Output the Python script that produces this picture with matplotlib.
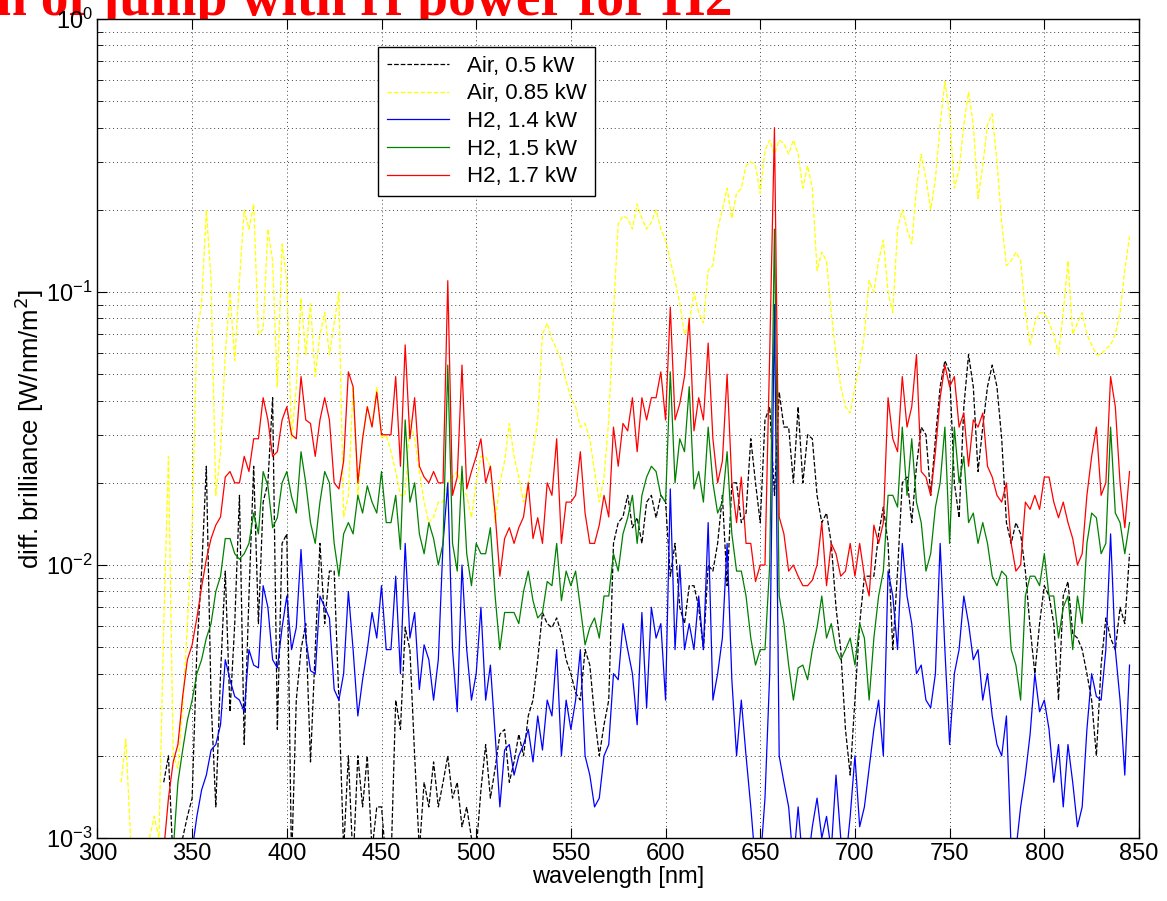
import numpy as np
import matplotlib
matplotlib.use("Agg")
import matplotlib.pyplot as plt

nan = np.nan

# wavelength grid, 2.5 nm steps (310 ... 845 nm)
wavelength = np.arange(310, 845.1, 2.5)

air_05 = [
    nan, nan, nan, nan, nan, nan, nan, nan, nan, nan, 0.0016, 0.0020, 0.0008, 0.0008, 0.0010, 0.0012,
    0.0014, 0.0049, 0.0095, 0.023, 0.0032, 0.0013, 0.0040, 0.0095, 0.0029, 0.0061, 0.018, 0.0022, 0.0077, 0.023, 0.0061, 0.017, 0.020, 0.041, 0.0025, 0.012,
    0.013, 0.0008, 0.0032, 0.0049, 0.0061, 0.0019, 0.0049, 0.012, 0.0061, 0.0095, 0.0095, 0.0032, 0.0009, 0.0020, 0.0008, 0.0020, 0.0013, 0.0020, 0.0009, 0.0013,
    0.0013, 0.0008, 0.0008, 0.0032, 0.0025, 0.0059, 0.0049, 0.0020, 0.0009, 0.0016, 0.0013, 0.0019, 0.0013, 0.0016, 0.0020, 0.0014, 0.0016, 0.0011, 0.0013, 0.0010,
    0.0009, 0.0015, 0.0022, 0.0014, 0.0018, 0.0024, 0.0025, 0.0016, 0.0019, 0.0024, 0.0020, 0.0028, 0.0032, 0.0045, 0.0067, 0.0061, 0.0059, 0.0064, 0.0056, 0.0045,
    0.0040, 0.0034, 0.0032, 0.0049, 0.0043, 0.0028, 0.0020, 0.0026, 0.0032, 0.012, 0.0143, 0.015, 0.018, 0.0137, 0.0149, 0.012, 0.017, 0.018, 0.0149, 0.018,
    0.017, 0.0091, 0.012, 0.0070, 0.0061, 0.0084, 0.0084, 0.0070, 0.0049, 0.010, 0.0095, 0.012, 0.018, 0.0084, 0.020, 0.020, 0.0143, 0.0155, 0.029, 0.020,
    0.0143, 0.034, 0.038, 0.018, 0.043, 0.032, 0.032, 0.020, 0.038, 0.020, 0.030, 0.029, 0.018, 0.0143, 0.0155, 0.012, 0.0070, 0.0049, 0.0025, 0.0017,
    0.0032, 0.0061, 0.0091, 0.0091, 0.0091, 0.013, 0.0163, 0.012, 0.0049, 0.0095, 0.020, 0.021, 0.0143, 0.023, 0.032, 0.030, 0.018, 0.029, 0.045, 0.056,
    0.051, 0.020, 0.0149, 0.038, 0.059, 0.045, 0.022, 0.032, 0.045, 0.054, 0.045, 0.029, 0.0143, 0.012, 0.0143, 0.013, 0.0095, 0.0059, 0.0040, 0.0061,
    0.0084, 0.0077, 0.0061, 0.0032, 0.0077, 0.0087, 0.0056, 0.0054, 0.0049, 0.0040, 0.0032, 0.0020, 0.0043, 0.0064, 0.0054, 0.0049, 0.0070, 0.0061, 0.011,
]

air_085 = [
    nan, 0.0016, 0.0023, 0.0010, 0.0008, 0.0008, 0.0008, 0.0010, 0.0012, 0.0010, 0.0060, 0.025, 0.0020, 0.0018, 0.0030, 0.0060,
    0.014, 0.07, 0.091, 0.20, 0.11, 0.018, 0.026, 0.059, 0.10, 0.056, 0.11, 0.20, 0.17, 0.21, 0.07, 0.073, 0.17, 0.13, 0.045, 0.15,
    0.11, 0.029, 0.045, 0.095, 0.059, 0.091, 0.049, 0.070, 0.084, 0.059, 0.077, 0.10, 0.015, 0.018, 0.045, 0.018, 0.029, 0.038, 0.032, 0.045,
    0.029, 0.030, 0.026, 0.022, 0.018, 0.018, 0.034, 0.029, 0.022, 0.017, 0.0143, 0.015, 0.017, 0.017, 0.020, 0.021, 0.022, 0.019, 0.018, 0.0149,
    0.020, 0.025, 0.025, 0.023, 0.0143, 0.020, 0.024, 0.033, 0.025, 0.021, 0.017, 0.020, 0.026, 0.034, 0.070, 0.077, 0.067, 0.062, 0.056, 0.047,
    0.041, 0.038, 0.032, 0.033, 0.029, 0.022, 0.017, 0.021, 0.034, 0.084, 0.178, 0.19, 0.186, 0.17, 0.21, 0.186, 0.17, 0.18, 0.20, 0.17,
    0.155, 0.13, 0.11, 0.091, 0.07, 0.077, 0.10, 0.084, 0.077, 0.12, 0.125, 0.17, 0.20, 0.24, 0.186, 0.23, 0.24, 0.29, 0.30, 0.29,
    0.23, 0.33, 0.36, 0.32, 0.36, 0.35, 0.32, 0.36, 0.32, 0.24, 0.29, 0.24, 0.12, 0.14, 0.13, 0.084, 0.059, 0.045, 0.038, 0.036,
    0.045, 0.054, 0.07, 0.11, 0.10, 0.13, 0.155, 0.10, 0.084, 0.17, 0.20, 0.17, 0.15, 0.24, 0.32, 0.26, 0.20, 0.26, 0.41, 0.59,
    0.45, 0.24, 0.28, 0.41, 0.54, 0.41, 0.22, 0.29, 0.41, 0.45, 0.30, 0.18, 0.125, 0.13, 0.14, 0.13, 0.084, 0.064, 0.077, 0.084,
    0.084, 0.077, 0.07, 0.059, 0.084, 0.13, 0.07, 0.077, 0.084, 0.07, 0.064, 0.059, 0.059, 0.062, 0.064, 0.07, 0.084, 0.12, 0.16,
]

h2_14 = [
    nan, nan, nan, nan, nan, nan, nan, nan, nan, nan, nan, nan, nan, nan, nan, nan,
    0.0009, 0.0012, 0.0015, 0.0017, 0.0021, 0.0022, 0.0026, 0.0045, 0.0038, 0.0033, 0.0032, 0.0029, 0.0049, 0.0043, 0.0042, 0.0084, 0.0070, 0.0045, 0.0042, 0.0059,
    0.0077, 0.0049, 0.0059, 0.0114, 0.0054, 0.0041, 0.0040, 0.0077, 0.0070, 0.0064, 0.0035, 0.0032, 0.0040, 0.0080, 0.0049, 0.0028, 0.0038, 0.0049, 0.0067, 0.0054,
    0.0084, 0.0049, 0.0049, 0.0091, 0.0040, 0.012, 0.0054, 0.0067, 0.0035, 0.0051, 0.0045, 0.0032, 0.0045, 0.012, 0.020, 0.0049, 0.0029, 0.010, 0.0049, 0.0032,
    0.0040, 0.0070, 0.0032, 0.0043, 0.0024, 0.0013, 0.0021, 0.0022, 0.0017, 0.0020, 0.0022, 0.0025, 0.0019, 0.0028, 0.0021, 0.0032, 0.0028, 0.0049, 0.0020, 0.0032,
    0.0025, 0.0032, 0.0049, 0.0020, 0.0017, 0.0013, 0.0014, 0.0020, 0.0022, 0.0040, 0.0038, 0.0061, 0.0049, 0.0040, 0.0026, 0.0067, 0.0030, 0.0070, 0.0054, 0.0061,
    0.0032, 0.019, 0.0049, 0.010, 0.0049, 0.0061, 0.0049, 0.0077, 0.0049, 0.0143, 0.0032, 0.0040, 0.0054, 0.012, 0.0038, 0.0020, 0.0032, 0.0020, 0.0013, 0.0008,
    0.0008, 0.0014, 0.0040, 0.09, 0.0020, 0.0016, 0.0013, 0.0008, 0.0013, 0.0008, 0.0008, 0.0011, 0.0014, 0.0010, 0.0012, 0.0009, 0.0017, 0.0010, 0.0008, 0.0012,
    0.0020, 0.0011, 0.0013, 0.0018, 0.0025, 0.0032, 0.0020, 0.0095, 0.0077, 0.0049, 0.012, 0.0077, 0.0061, 0.0040, 0.0043, 0.0032, 0.0030, 0.0040, 0.012, 0.0049,
    0.0022, 0.0040, 0.0049, 0.0077, 0.0061, 0.0045, 0.0049, 0.0032, 0.0040, 0.0028, 0.0022, 0.0020, 0.0028, 0.0009, 0.0009, 0.0013, 0.0017, 0.0024, 0.0040, 0.0029,
    0.0032, 0.0025, 0.0016, 0.0022, 0.0013, 0.0022, 0.0016, 0.0011, 0.0013, 0.0025, 0.0040, 0.0033, 0.0032, 0.0049, 0.013, 0.0049, 0.0032, 0.0017, 0.0043,
]

h2_15 = [
    nan, nan, nan, nan, nan, nan, nan, nan, nan, nan, nan, nan, 0.0009, 0.0016, 0.0021, 0.0027,
    0.0032, 0.0040, 0.0045, 0.0054, 0.0061, 0.0080, 0.0091, 0.0125, 0.0125, 0.011, 0.0105, 0.011, 0.012, 0.0155, 0.013, 0.022, 0.0195, 0.0137, 0.0149, 0.020,
    0.022, 0.0178, 0.0155, 0.026, 0.020, 0.0143, 0.012, 0.017, 0.022, 0.020, 0.012, 0.0091, 0.013, 0.0143, 0.013, 0.018, 0.0155, 0.0195, 0.017, 0.0155,
    0.022, 0.0143, 0.0143, 0.018, 0.0114, 0.034, 0.017, 0.020, 0.013, 0.011, 0.0143, 0.0125, 0.010, 0.012, 0.054, 0.012, 0.0095, 0.023, 0.011, 0.0084,
    0.012, 0.011, 0.011, 0.0137, 0.0077, 0.0049, 0.0067, 0.0067, 0.0067, 0.0061, 0.0080, 0.0095, 0.0074, 0.0064, 0.0067, 0.0087, 0.0084, 0.012, 0.0074, 0.0095,
    0.0084, 0.0095, 0.0070, 0.0051, 0.0059, 0.0064, 0.0054, 0.0077, 0.0077, 0.011, 0.0095, 0.013, 0.0149, 0.018, 0.012, 0.018, 0.021, 0.023, 0.022, 0.018,
    0.017, 0.051, 0.020, 0.029, 0.026, 0.045, 0.019, 0.022, 0.017, 0.032, 0.020, 0.0155, 0.017, 0.026, 0.013, 0.0095, 0.0095, 0.0077, 0.0054, 0.0043,
    0.0049, 0.0049, 0.010, 0.17, 0.0077, 0.0061, 0.0043, 0.0032, 0.0042, 0.0043, 0.0038, 0.0049, 0.0059, 0.0077, 0.0054, 0.0061, 0.0049, 0.0045, 0.0049, 0.0054,
    0.0043, 0.0061, 0.0054, 0.0032, 0.0054, 0.0077, 0.0095, 0.018, 0.018, 0.0163, 0.032, 0.018, 0.029, 0.017, 0.0143, 0.0095, 0.011, 0.0163, 0.020, 0.032,
    0.012, 0.032, 0.020, 0.025, 0.0143, 0.0155, 0.012, 0.0143, 0.012, 0.0091, 0.0084, 0.0095, 0.0091, 0.0049, 0.0043, 0.0032, 0.0077, 0.0091, 0.0091, 0.0084,
    0.011, 0.0077, 0.0077, 0.0054, 0.0070, 0.0077, 0.0049, 0.0077, 0.0061, 0.012, 0.0155, 0.0149, 0.011, 0.012, 0.032, 0.0155, 0.0143, 0.011, 0.0143,
]

h2_17 = [
    nan, nan, nan, nan, nan, nan, nan, nan, nan, nan, 0.0009, 0.0014, 0.0019, 0.0022, 0.0033, 0.0045,
    0.0051, 0.0064, 0.0083, 0.0105, 0.0125, 0.014, 0.015, 0.021, 0.022, 0.020, 0.020, 0.025, 0.022, 0.029, 0.029, 0.041, 0.034, 0.025, 0.026, 0.034,
    0.038, 0.030, 0.029, 0.049, 0.034, 0.033, 0.025, 0.034, 0.041, 0.034, 0.020, 0.019, 0.024, 0.051, 0.045, 0.020, 0.029, 0.038, 0.032, 0.043,
    0.030, 0.030, 0.030, 0.049, 0.023, 0.064, 0.029, 0.041, 0.023, 0.021, 0.020, 0.022, 0.020, 0.020, 0.11, 0.018, 0.021, 0.054, 0.019, 0.022,
    0.025, 0.029, 0.020, 0.023, 0.0155, 0.0091, 0.0125, 0.0137, 0.012, 0.0137, 0.015, 0.020, 0.0125, 0.0149, 0.012, 0.020, 0.018, 0.029, 0.012, 0.017,
    0.017, 0.018, 0.026, 0.0155, 0.012, 0.012, 0.014, 0.018, 0.015, 0.032, 0.023, 0.033, 0.031, 0.041, 0.026, 0.041, 0.034, 0.041, 0.041, 0.051,
    0.034, 0.088, 0.034, 0.039, 0.049, 0.080, 0.031, 0.041, 0.034, 0.065, 0.029, 0.020, 0.024, 0.050, 0.020, 0.0143, 0.021, 0.012, 0.012, 0.0087,
    0.010, 0.010, 0.060, 0.40, 0.015, 0.013, 0.0095, 0.010, 0.0091, 0.0084, 0.0084, 0.0088, 0.010, 0.0143, 0.0084, 0.012, 0.011, 0.0091, 0.0095, 0.012,
    0.0091, 0.012, 0.0091, 0.0077, 0.014, 0.012, 0.0143, 0.041, 0.029, 0.026, 0.049, 0.032, 0.038, 0.059, 0.022, 0.021, 0.018, 0.026, 0.041, 0.054,
    0.045, 0.049, 0.032, 0.036, 0.023, 0.034, 0.032, 0.036, 0.023, 0.021, 0.018, 0.017, 0.020, 0.012, 0.0095, 0.010, 0.017, 0.016, 0.018, 0.016,
    0.021, 0.021, 0.017, 0.0149, 0.017, 0.0143, 0.0125, 0.010, 0.011, 0.018, 0.025, 0.032, 0.018, 0.020, 0.049, 0.038, 0.020, 0.0137, 0.022,
]

labels = ["Air, 0.5 kW", "Air, 0.85 kW", "H2, 1.4 kW", "H2, 1.5 kW", "H2, 1.7 kW"]
series = [air_05, air_085, h2_14, h2_15, h2_17]
colors = ["#000000", "#ffff00", "#0000ff", "#008000", "#ff0000"]
styles = ["--", "--", "-", "-", "-"]

plt.rcParams['font.family'] = ['Liberation Sans', 'DejaVu Sans']

fig = plt.figure(figsize=(11.67, 9.01), dpi=100)
ax = fig.add_axes([0.0835, 0.0699, 0.8925, 0.909])

for y, lab, c, ls in zip(series, labels, colors, styles):
    ax.plot(wavelength, y, color=c, linestyle=ls, linewidth=0.9, label=lab)

ax.set_yscale("log")
ax.set_xlim(300, 850)
ax.set_ylim(1e-3, 1)
ax.set_xticks(np.arange(300, 851, 50))

# matlab style grid: dotted, major + minor on the log axis
ax.grid(True, which="major", axis="both", color="#444444", linestyle=(0, (1, 3)), linewidth=0.7)
ax.grid(True, which="minor", axis="y", color="#444444", linestyle=(0, (1, 3)), linewidth=0.7)
ax.tick_params(which="both", direction="in", top=True, right=True, labelsize=17)
ax.tick_params(which="major", length=7)
ax.tick_params(which="minor", length=4)
for s in ax.spines.values():
    s.set_linewidth(1.0)

ax.set_xlabel("wavelength [nm]", fontsize=17, labelpad=1)
ax.set_ylabel("diff. brilliance [W/nm/m$^2$]", fontsize=18.5, labelpad=0)

leg = ax.legend(loc="upper left", bbox_to_anchor=(0.269, 0.966), borderaxespad=0,
                fancybox=False, edgecolor="black", framealpha=1, fontsize=16,
                handlelength=2.8, labelspacing=0.3, borderpad=0.4)
leg.get_frame().set_linewidth(1.0)

# slide title, mostly cut off at the top edge of the picture (axes drawn over it)
fig.text(-0.003, 1 - 15 / 901, "n of jump with rf power for H2", color="red",
         fontsize=40, fontweight="bold", family="Liberation Serif", ha="left", va="baseline",
         zorder=-1)

fig.savefig("out.png", dpi=100)
